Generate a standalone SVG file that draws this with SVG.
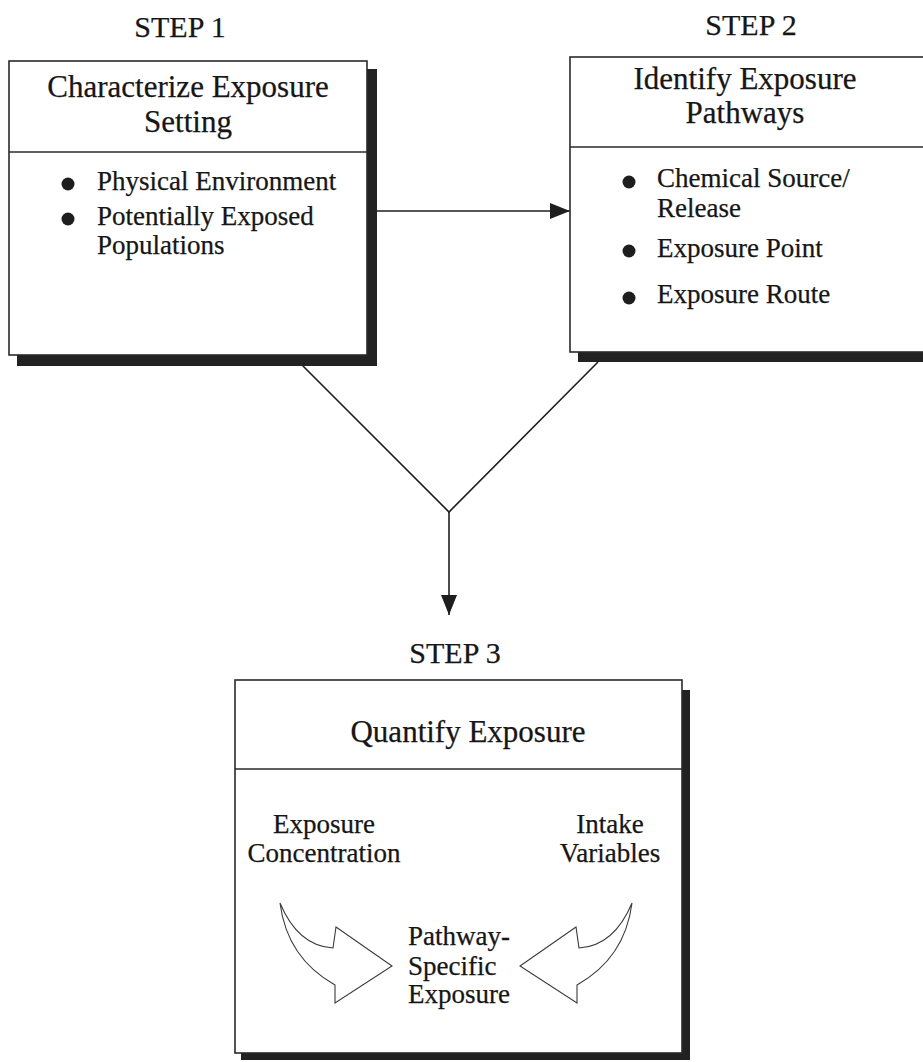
<svg xmlns="http://www.w3.org/2000/svg" width="923" height="1062" viewBox="0 0 923 1062">
  <style>
    text { font-family: "Liberation Serif", "Times New Roman", serif; fill: #161616; stroke: #161616; stroke-width: 0.25; }
    .step { font-size: 30px; text-anchor: middle; }
    .title { font-size: 31px; text-anchor: middle; }
    .item { font-size: 27px; }
    .mid { font-size: 27px; text-anchor: middle; }
    .box { fill: #ffffff; stroke: #2a2a2a; stroke-width: 1.6; }
    .shadow { fill: #222222; }
    .rule { stroke: #2a2a2a; stroke-width: 1.6; }
    .link { stroke: #1e1e1e; stroke-width: 1.6; fill: none; }
    .bullet { fill: #1e1e1e; }
    .bend { fill: #ffffff; stroke: #3a3a3a; stroke-width: 1.1; stroke-linejoin: miter; }
  </style>
  <defs>
    <marker id="head" viewBox="0 0 20 16" refX="20" refY="8" markerWidth="20" markerHeight="16" markerUnits="userSpaceOnUse" orient="auto">
      <path d="M0,0 L20,8 L0,16 Z" fill="#1e1e1e"/>
    </marker>
  </defs>

  <rect width="923" height="1062" fill="#ffffff"/>

  <!-- step labels -->
  <text class="step" x="180" y="37">STEP 1</text>
  <text class="step" x="751" y="35">STEP 2</text>
  <text class="step" x="455" y="663">STEP 3</text>

  <!-- connectors -->
  <g id="connectors">
    <line class="link" x1="377" y1="211" x2="570" y2="211" marker-end="url(#head)"/>
    <polyline class="link" points="302,365 449,512 598,362"/>
    <line class="link" x1="449" y1="512" x2="449" y2="615" marker-end="url(#head)"/>
  </g>

  <!-- step 1 box -->
  <g id="step1">
    <rect class="shadow" x="17" y="69" width="360" height="297"/>
    <rect class="box" x="9" y="61" width="358" height="294"/>
    <line class="rule" x1="9" y1="152" x2="367" y2="152"/>
    <text class="title" x="188" y="97">Characterize Exposure</text>
    <text class="title" x="188" y="132">Setting</text>
    <circle class="bullet" cx="68" cy="184" r="6.5"/>
    <text class="item" x="97" y="190">Physical Environment</text>
    <circle class="bullet" cx="68" cy="219" r="6.5"/>
    <text class="item" x="97" y="225">Potentially Exposed</text>
    <text class="item" x="97" y="254">Populations</text>
  </g>

  <!-- step 2 box -->
  <g id="step2">
    <rect class="shadow" x="578" y="65" width="360" height="297"/>
    <rect class="box" x="570" y="57" width="370" height="295"/>
    <line class="rule" x1="570" y1="147" x2="923" y2="147"/>
    <text class="title" x="745" y="89">Identify Exposure</text>
    <text class="title" x="745" y="123">Pathways</text>
    <circle class="bullet" cx="629" cy="182" r="6.5"/>
    <text class="item" x="657" y="187">Chemical Source/</text>
    <text class="item" x="657" y="217">Release</text>
    <circle class="bullet" cx="629" cy="251" r="6.5"/>
    <text class="item" x="657" y="257">Exposure Point</text>
    <circle class="bullet" cx="629" cy="298" r="6.5"/>
    <text class="item" x="657" y="303">Exposure Route</text>
  </g>

  <!-- step 3 box -->
  <g id="step3">
    <rect class="shadow" x="241" y="690" width="449" height="370"/>
    <rect class="box" x="235" y="680" width="447" height="373"/>
    <line class="rule" x1="235" y1="769" x2="682" y2="769"/>
    <text class="title" x="468" y="742">Quantify Exposure</text>
    <text class="mid" x="324" y="833">Exposure</text>
    <text class="mid" x="324" y="862">Concentration</text>
    <text class="mid" x="610" y="833">Intake</text>
    <text class="mid" x="610" y="862">Variables</text>
    <text class="item" x="408" y="945">Pathway-</text>
    <text class="item" x="408" y="975">Specific</text>
    <text class="item" x="408" y="1003">Exposure</text>
    <!-- curved block arrows feeding the centre label -->
    <path class="bend" d="M280,903 Q298,946 333,948 L336,927 L392,966 L335,1003 L335,985 Q287,958 280,903 Z"/>
    <path class="bend" d="M632,903 Q614,946 579,948 L576,927 L520,966 L577,1003 L577,985 Q625,958 632,903 Z"/>
  </g>
</svg>
